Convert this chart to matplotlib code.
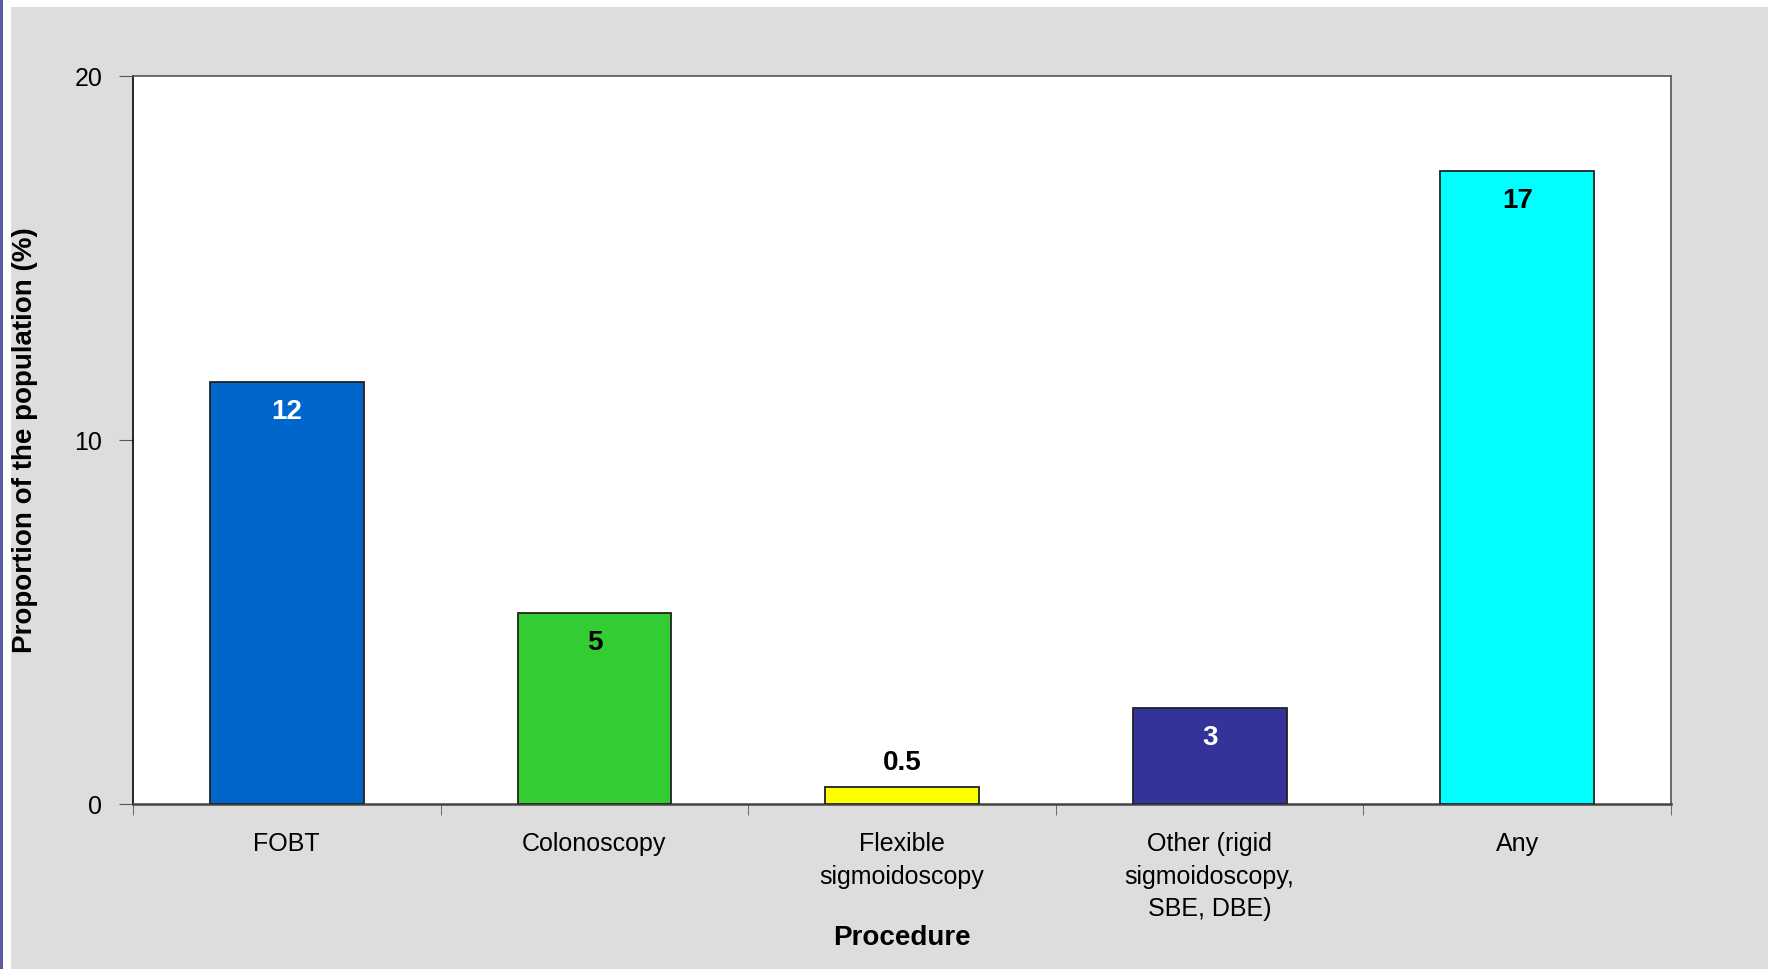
import matplotlib.pyplot as plt
import numpy as np
from matplotlib.patches import Rectangle

plt.rcParams['font.family'] = ['Liberation Sans', 'DejaVu Sans']

procedures = ["FOBT", "Colonoscopy", "Flexible\nsigmoidoscopy",
              "Other (rigid\nsigmoidoscopy,\nSBE, DBE)", "Any"]
values = [11.6, 5.25, 0.48, 2.63, 17.38]
labels = ["12", "5", "0.5", "3", "17"]
colors = ["#0066CC", "#33CC33", "#FFFF00", "#333399", "#00FFFF"]
label_colors = ["white", "black", "black", "white", "black"]

W, H = 1768, 969
fig = plt.figure(figsize=(W / 100, H / 100), dpi=100)
fig.patch.set_facecolor("white")

# gray frame and left stripe
fig.add_artist(Rectangle((11 / W, 0), 1, 1 - 7 / H, transform=fig.transFigure,
                         facecolor="#DDDDDD", edgecolor="none", zorder=-5))
fig.add_artist(Rectangle((0, 0), 3 / W, 1, transform=fig.transFigure,
                         facecolor="#5A5AA8", edgecolor="none", zorder=-5))

left, right, top, bottom = 133, 1671, 76, 804
ax = fig.add_axes([left / W, 1 - bottom / H, (right - left) / W, (bottom - top) / H])
ax.set_facecolor("white")

x = np.arange(len(values))
ax.bar(x, values, width=0.5, color=colors, edgecolor="#222222", linewidth=1.3, zorder=3)

for xi, v, lab, lc in zip(x, values, labels, label_colors):
    off = 17 if v < 1 else -21.5
    ax.annotate(lab, (xi, v), xytext=(0, off), textcoords="offset points",
                ha="center", va="center", fontsize=20, fontweight="bold", color=lc)

ax.set_xlim(-0.5, len(values) - 0.5)
ax.set_ylim(0, 20)
ax.set_yticks([0, 10, 20])
ax.set_xticks(x)
ax.set_xticklabels(procedures, fontsize=18, linespacing=1.44, va="top")
ax.set_xticks(np.arange(-0.5, len(values)), minor=True)
ax.tick_params(axis="x", which="major", length=0, pad=20.5)
ax.tick_params(axis="x", which="minor", length=8, color="#555555", direction="out")
ax.tick_params(axis="y", length=10, color="#555555", labelsize=18, pad=12)

for s in ["top", "right"]:
    ax.spines[s].set_color("#555555")
    ax.spines[s].set_linewidth(1.2)
ax.spines["left"].set_color("black")
ax.spines["left"].set_linewidth(1.2)
ax.spines["bottom"].set_color("#444444")
ax.spines["bottom"].set_linewidth(1.8)

ax.set_ylabel("Proportion of the population (%)", fontsize=20, fontweight="bold")
ax.yaxis.set_label_coords(-(left - 25) / (right - left), 0.5)
ax.yaxis.label.set_verticalalignment("center")
ax.set_xlabel("Procedure", fontsize=20, fontweight="bold")
ax.xaxis.set_label_coords(0.5, -(938 - bottom) / (bottom - top))
ax.xaxis.label.set_verticalalignment("center")

fig.savefig("out.png", dpi=100)
